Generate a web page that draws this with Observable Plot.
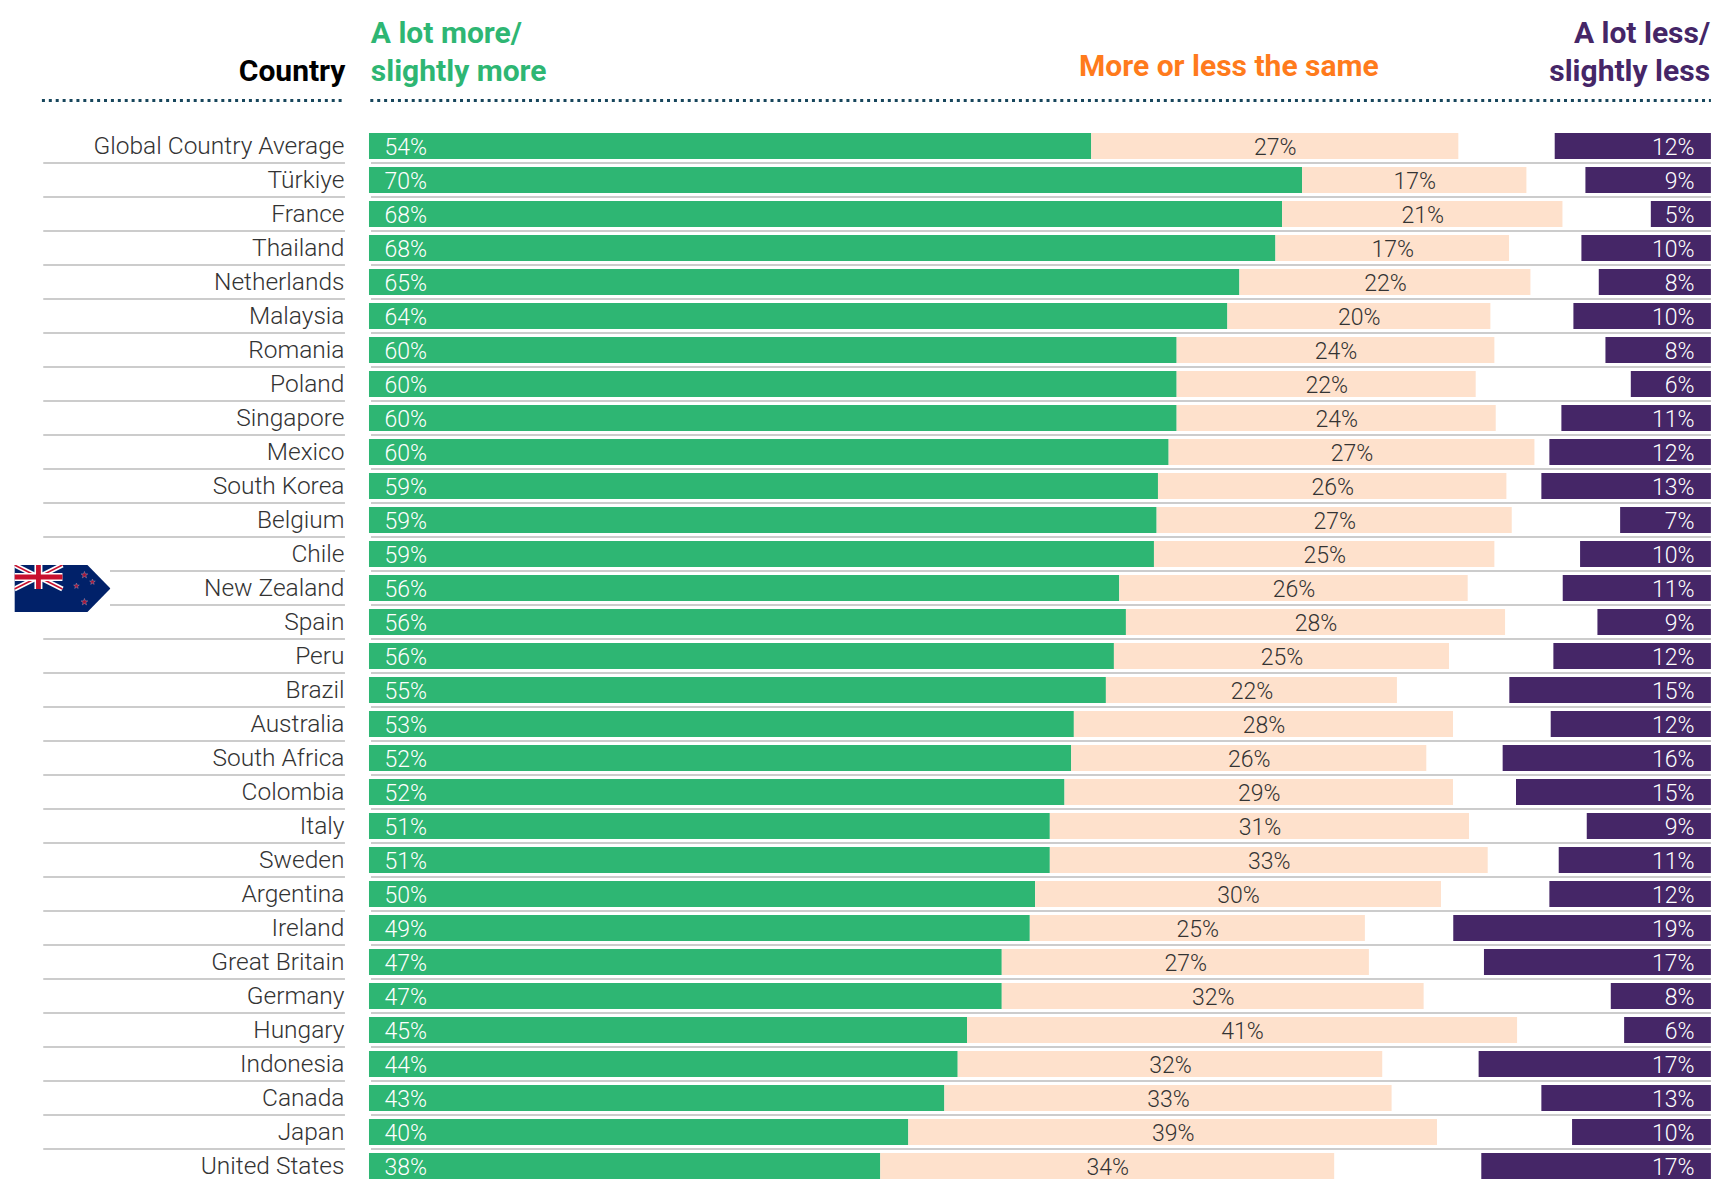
<!DOCTYPE html>
<html><head><meta charset="utf-8">
<script src="https://cdn.jsdelivr.net/npm/d3@7"></script>
<script src="https://cdn.jsdelivr.net/npm/@observablehq/plot@0.6"></script>
<style>html,body{margin:0;padding:0;background:#fff}svg{display:block}</style>
</head><body><div id="c"></div>
<script>
const countries=["Global Country Average","Türkiye","France","Thailand","Netherlands","Malaysia","Romania","Poland","Singapore","Mexico","South Korea","Belgium","Chile","New Zealand","Spain","Peru","Brazil","Australia","South Africa","Colombia","Italy","Sweden","Argentina","Ireland","Great Britain","Germany","Hungary","Indonesia","Canada","Japan","United States"];
const more=[54.1,69.9,68.4,67.9,65.2,64.3,60.5,60.5,60.5,59.9,59.1,59.0,58.8,56.2,56.7,55.8,55.2,52.8,52.6,52.1,51.0,51.0,49.9,49.5,47.4,47.4,44.8,44.1,43.1,40.4,38.3];
const same=[27.5,16.8,21.0,17.5,21.8,19.7,23.8,22.4,23.9,27.4,26.1,26.6,25.5,26.1,28.4,25.1,21.8,28.4,26.6,29.1,31.4,32.8,30.4,25.1,27.5,31.6,41.2,31.8,33.5,39.6,34.0];
const less=[11.7,9.4,4.5,9.7,8.4,10.3,7.9,6.0,11.2,12.1,12.7,6.8,9.8,11.1,8.5,11.8,15.1,12.0,15.6,14.6,9.3,11.4,12.1,19.3,17.0,7.5,6.5,17.4,12.7,10.4,17.2];
const moreLabels=[54,70,68,68,65,64,60,60,60,60,59,59,59,56,56,56,55,53,52,52,51,51,50,49,47,47,45,44,43,40,38];
const sameLabels=[27,17,21,17,22,20,24,22,24,27,26,27,25,26,28,25,22,28,26,29,31,33,30,25,27,32,41,32,33,39,34];
const lessLabels=[12,9,5,10,8,10,8,6,11,12,13,7,10,11,9,12,15,12,16,15,9,11,12,19,17,8,6,17,13,10,17];

const rows=countries.map((c,i)=>({c,i,more:more[i],same:same[i],less:less[i],ml:moreLabels[i]+"%",sl:sameLabels[i]+"%",ll:lessLabels[i]+"%"}));
const FONT="Roboto, sans-serif";
const END=100.52;                       // the right edge of the purple bars on the x scale
const first=countries[0];
const flagged=new Set(["Chile","New Zealand"]);

const stars=[[70,10,3.6],[62,21,3],[78,17,3],[70,37,3.6]].map(([x,y,r])=>{
  const p=d3.range(10).map(k=>{const a=-Math.PI/2+k*Math.PI/5,q=k%2?r*.42:r;return (x+q*Math.cos(a)).toFixed(2)+","+(y+q*Math.sin(a)).toFixed(2)}).join(" ");
  return `<polygon points="${p}" fill="#c8102e" stroke="#fff" stroke-width=".3" opacity=".8"/>`}).join("");
const flagSvg=`<svg xmlns="http://www.w3.org/2000/svg" width="96" height="47" viewBox="0 0 96 47"><polygon points="0,0 73,0 96,23.5 73,47 0,47" fill="#012169"/><path d="M0 0L48 24M48 0L0 24" stroke="#fff" stroke-width="5"/><path d="M0 0L48 24M48 0L0 24" stroke="#c8102e" stroke-width="1.6"/><path d="M24 0V24M0 12H48" stroke="#fff" stroke-width="8"/><path d="M24 0V24M0 12H48" stroke="#c8102e" stroke-width="4.8"/>${stars}</svg>`;
const flagUri="data:image/svg+xml;base64,"+btoa(flagSvg);

const header=(text,x,dy,fill,anchor)=>Plot.text([text],{x:()=>x,y:()=>first,dy,text:d=>d,fill,textAnchor:anchor,lineAnchor:"middle",fontFamily:FONT,fontWeight:700,fontSize:30});

const chart=Plot.plot({
  width:1732,height:1191,margin:0,
  x:{domain:[-27.64,102.1],range:[0,1732],axis:null},
  y:{domain:countries,range:[120.7,1191.1],paddingInner:.224,paddingOuter:0,axis:null},
  marks:[
    // separators
    Plot.ruleY(rows.slice(0,-1),{y:"c",x1:d=>flagged.has(d.c)?-19.4:-24.4,x2:-1.8,dy:16.4,stroke:"#cccccc",strokeWidth:2}),
    Plot.ruleY(rows.slice(0,-1),{y:"c",x1:.15,x2:END,dy:16.4,stroke:"#cccccc",strokeWidth:2}),
    // header rules
    Plot.ruleY([first],{y:d=>d,x1:-24.5,x2:-1.8,dy:-46,stroke:"#17465c",strokeWidth:3,strokeDasharray:"3,3.9"}),
    Plot.ruleY([first],{y:d=>d,x1:.1,x2:END,dy:-46,stroke:"#17465c",strokeWidth:3,strokeDasharray:"3,3.9"}),
    // bars
    Plot.barX(rows,{y:"c",x1:0,x2:"more",fill:"#2eb673"}),
    Plot.barX(rows,{y:"c",x1:"more",x2:d=>d.more+d.same,fill:"#fee1cc"}),
    Plot.barX(rows,{y:"c",x1:d=>END-d.less,x2:END,fill:"#452667"}),
    // value labels
    Plot.text(rows,{y:"c",x:0,dx:15,dy:1,text:"ml",textAnchor:"start",fill:"#ffffff",fontFamily:FONT,fontWeight:300,fontSize:23}),
    Plot.text(rows,{y:"c",x:d=>d.more+d.same/2,dy:1,text:"sl",textAnchor:"middle",fill:"#333333",fontFamily:FONT,fontWeight:300,fontSize:23}),
    Plot.text(rows,{y:"c",x:END,dx:-17,dy:1,text:"ll",textAnchor:"end",fill:"#ffffff",fontFamily:FONT,fontWeight:300,fontSize:23}),
    // country labels
    Plot.text(rows,{y:"c",x:-1.8,dx:-1,text:"c",textAnchor:"end",fill:"#333333",fontFamily:FONT,fontWeight:300,fontSize:24.5}),
    // headers
    header("Country",-1.8,-75,"#000000","end"),
    header("A lot more/",.1,-113,"#2eb673","start"),
    header("slightly more",.1,-75,"#2eb673","start"),
    header("More or less the same",75.6,-80,"#ff7b1c","end"),
    header("A lot less/",END-.1,-113,"#452667","end"),
    header("slightly less",END-.1,-75,"#452667","end"),
    // flag
    Plot.image(["New Zealand"],{y:d=>d,x:()=>-23,src:()=>flagUri,width:96,height:47})
  ]
});
document.getElementById("c").append(chart);
</script></body></html>
